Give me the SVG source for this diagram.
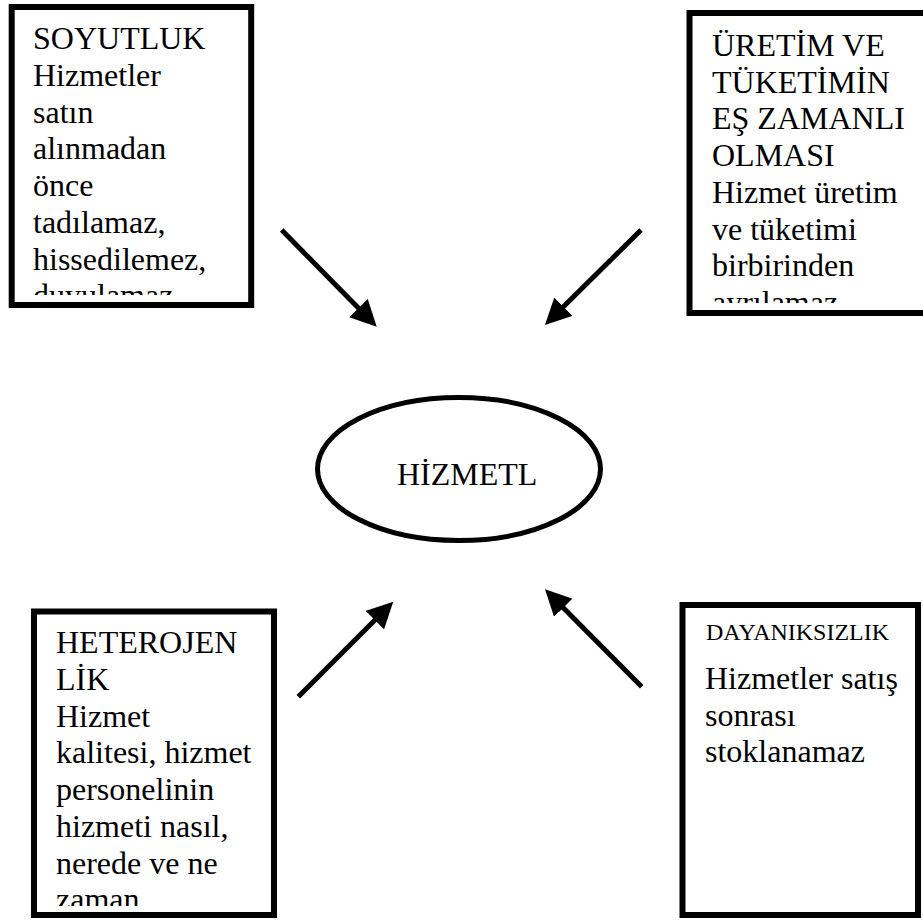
<svg xmlns="http://www.w3.org/2000/svg" width="923" height="921" viewBox="0 0 923 921">
  <style>
    .box { fill: #fff; stroke: #000; stroke-width: 6; }
    .t { font-family: "Liberation Serif", "Times New Roman", serif; font-size: 32px; fill: #000; }
    .small { font-size: 24px; }
    .conn { stroke: #000; stroke-width: 5; fill: none; marker-end: url(#ah); }
  </style>
  <defs>
    <marker id="ah" markerUnits="userSpaceOnUse" markerWidth="26" markerHeight="26" viewBox="0 0 26 26" refX="4" refY="13" orient="auto">
      <path d="M0,0 L26,13 L0,26 Z" fill="#000"/>
    </marker>
    <clipPath id="c1"><rect x="14" y="10" width="234" height="285"/></clipPath>
    <clipPath id="c2"><rect x="692" y="16" width="231" height="287"/></clipPath>
    <clipPath id="c3"><rect x="37" y="614" width="234" height="292"/></clipPath>
  </defs>
  <rect width="923" height="921" fill="#fff"/>

  <g id="soyutluk">
    <rect class="box" x="11.7" y="7" width="239.5" height="298"/>
    <g clip-path="url(#c1)">
      <text class="t" x="33" y="49.3">SOYUTLUK</text>
      <text class="t" x="33" y="86">Hizmetler</text>
      <text class="t" x="33" y="122.7">satın</text>
      <text class="t" x="33" y="159.4">alınmadan</text>
      <text class="t" x="33" y="196.1">önce</text>
      <text class="t" x="33" y="232.8">tadılamaz,</text>
      <text class="t" x="33" y="269.5">hissedilemez,</text>
      <text class="t" x="33" y="306.2">duyulamaz</text>
    </g>
  </g>

  <g id="uretim">
    <rect class="box" x="689.5" y="13" width="250" height="300"/>
    <g clip-path="url(#c2)">
      <text class="t" x="712" y="56">ÜRETİM VE</text>
      <text class="t" x="712" y="92.7">TÜKETİMİN</text>
      <text class="t" x="712" y="129.4">EŞ ZAMANLI</text>
      <text class="t" x="712" y="166.1">OLMASI</text>
      <text class="t" x="712" y="202.8">Hizmet üretim</text>
      <text class="t" x="712" y="239.5">ve tüketimi</text>
      <text class="t" x="712" y="276.2">birbirinden</text>
      <text class="t" x="712" y="312.9">ayrılamaz</text>
    </g>
  </g>

  <g id="hizmetl">
    <ellipse cx="459" cy="469" rx="141.5" ry="71.5" fill="#fff" stroke="#000" stroke-width="5"/>
    <text class="t" x="397" y="485">HİZMETL</text>
  </g>

  <g id="heterojenlik">
    <rect class="box" x="34" y="611.5" width="240" height="303.5"/>
    <g clip-path="url(#c3)">
      <text class="t" x="56" y="653.3">HETEROJEN</text>
      <text class="t" x="56" y="690">LİK</text>
      <text class="t" x="56" y="726.7">Hizmet</text>
      <text class="t" x="56" y="763.4">kalitesi, hizmet</text>
      <text class="t" x="56" y="800.1">personelinin</text>
      <text class="t" x="56" y="836.8">hizmeti nasıl,</text>
      <text class="t" x="56" y="873.5">nerede ve ne</text>
      <text class="t" x="56" y="910.2">zaman</text>
    </g>
  </g>

  <g id="dayaniksizlik">
    <rect class="box" x="682.5" y="605" width="235.5" height="310"/>
    <text class="t small" x="706" y="640">DAYANIKSIZLIK</text>
    <text class="t" x="705" y="689">Hizmetler satış</text>
    <text class="t" x="705" y="725.7">sonrası</text>
    <text class="t" x="705" y="762.4">stoklanamaz</text>
  </g>

  <g id="connectors">
    <line class="conn" x1="281.7" y1="230" x2="361.3" y2="311"/>
    <line class="conn" x1="641" y1="230" x2="560.6" y2="309.5"/>
    <line class="conn" x1="298.3" y1="696.7" x2="377.7" y2="617.3"/>
    <line class="conn" x1="641.7" y1="686.7" x2="560.5" y2="604.9"/>
  </g>
</svg>
